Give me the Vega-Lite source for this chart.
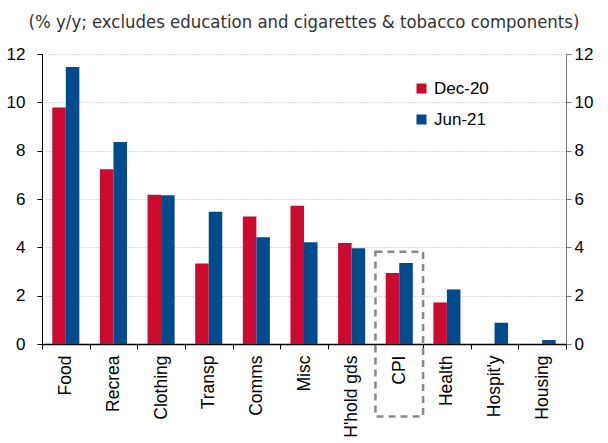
{
  "$schema": "https://vega.github.io/schema/vega-lite/v6.json",
  "width": 524,
  "height": 290,
  "autosize": {"type": "none"},
  "padding": {"left": 42, "top": 54, "right": 42, "bottom": 99},
  "title": {"text": "(% y/y; excludes education and cigarettes & tobacco components)", "font": "DejaVu Sans Condensed", "fontSize": 18.4, "fontWeight": "normal", "color": "#333", "anchor": "middle", "offset": 14},
  "config": {"view": {"stroke": null}, "font": "Liberation Sans"},
  "data": {"values": [
    {"category": "Food", "series": "Dec-20", "value": 9.79},
    {"category": "Food", "series": "Jun-21", "value": 11.46},
    {"category": "Recrea", "series": "Dec-20", "value": 7.23},
    {"category": "Recrea", "series": "Jun-21", "value": 8.36},
    {"category": "Clothing", "series": "Dec-20", "value": 6.18},
    {"category": "Clothing", "series": "Jun-21", "value": 6.16},
    {"category": "Transp", "series": "Dec-20", "value": 3.33},
    {"category": "Transp", "series": "Jun-21", "value": 5.47},
    {"category": "Comms", "series": "Dec-20", "value": 5.28},
    {"category": "Comms", "series": "Jun-21", "value": 4.42},
    {"category": "Misc", "series": "Dec-20", "value": 5.72},
    {"category": "Misc", "series": "Jun-21", "value": 4.21},
    {"category": "H'hold gds", "series": "Dec-20", "value": 4.18},
    {"category": "H'hold gds", "series": "Jun-21", "value": 3.96},
    {"category": "CPI", "series": "Dec-20", "value": 2.94},
    {"category": "CPI", "series": "Jun-21", "value": 3.35},
    {"category": "Health", "series": "Dec-20", "value": 1.72},
    {"category": "Health", "series": "Jun-21", "value": 2.26},
    {"category": "Hospit'y", "series": "Dec-20", "value": 0},
    {"category": "Hospit'y", "series": "Jun-21", "value": 0.88},
    {"category": "Housing", "series": "Dec-20", "value": 0},
    {"category": "Housing", "series": "Jun-21", "value": 0.17}
  ]},
  "layer": [
    {
      "mark": {"type": "bar"},
      "encoding": {
        "x": {"field": "category", "type": "nominal", "sort": null,
          "scale": {"paddingInner": 0, "paddingOuter": 0},
          "axis": {"title": null, "labelAngle": -90, "labelFontSize": 17.5, "labelColor": "#000", "domainColor": "#000", "tickColor": "#000", "tickBand": "extent", "tickSize": 5, "labelPadding": 6, "domainWidth": 1.5}},
        "xOffset": {"field": "series", "type": "nominal", "sort": ["Dec-20", "Jun-21"], "scale": {"paddingInner": 0, "paddingOuter": 0.76}},
        "y": {"field": "value", "type": "quantitative", "scale": {"domain": [0, 12], "nice": false},
          "axis": {"orient": "left", "title": null, "values": [0, 2, 4, 6, 8, 10, 12], "labelFontSize": 17, "labelColor": "#000", "labelPadding": 12, "tickSize": 5, "tickColor": "#000", "domainColor": "#000", "grid": true, "gridDash": [1, 2], "gridColor": "#bbbbbb"}},
        "color": {"field": "series", "type": "nominal", "sort": ["Dec-20", "Jun-21"],
          "scale": {"domain": ["Dec-20", "Jun-21"], "range": ["#cc0a2f", "#004b8d"]},
          "legend": {"orient": "none", "legendX": 371, "legendY": 26, "title": null, "symbolType": "square", "symbolSize": 100, "labelFontSize": 17, "labelColor": "#000", "rowPadding": 13, "labelOffset": 4, "symbolStrokeWidth": 0}}
      }
    },
    {
      "data": {"values": [{"category": "CPI"}]},
      "mark": {"type": "rect", "filled": false, "stroke": "#8a8a8a", "strokeWidth": 2.5, "strokeDash": [7, 5]},
      "encoding": {
        "x": {"field": "category", "type": "nominal", "sort": null},
        "y": {"datum": 3.82, "type": "quantitative", "scale": {"domain": [0, 12], "nice": false},
          "axis": {"orient": "right", "title": null, "values": [0, 2, 4, 6, 8, 10, 12], "labelFontSize": 17, "labelColor": "#000", "labelPadding": 3, "tickSize": 5, "tickColor": "#777", "domainColor": "#777", "grid": false}},
        "y2": {"datum": -3.0}
      }
    }
  ],
  "resolve": {"scale": {"y": "independent"}}
}
